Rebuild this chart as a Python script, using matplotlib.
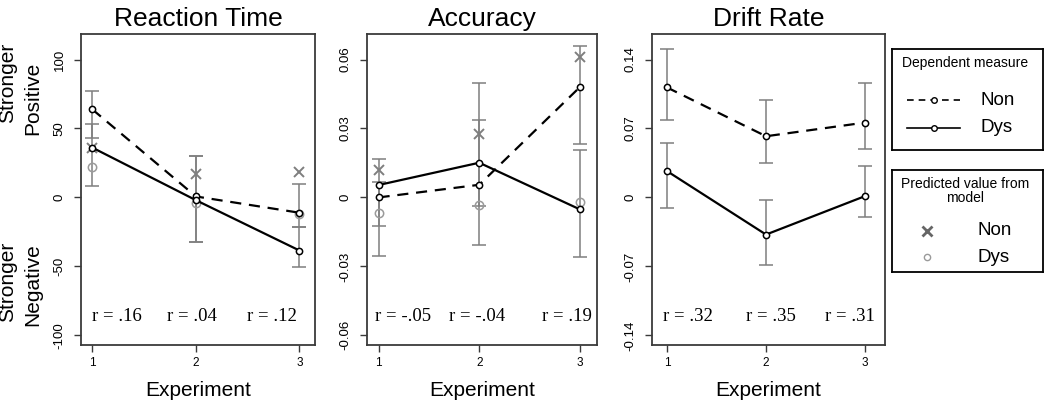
import matplotlib
matplotlib.use("Agg")
import matplotlib.pyplot as plt

plt.rcParams["font.family"] = ["Liberation Sans", "DejaVu Sans"]

# =========================
# Data
# =========================

experiments = [1, 2, 3]
panel_titles = ["Reaction Time", "Accuracy", "Drift Rate"]

rt_non = [63.8, 0.7, -11.1]
rt_dys = [36.1, -2.0, -38.5]
rt_non_lo = [43.1, -32.0, -21.6]
rt_non_hi = [77.3, 29.8, 9.5]
rt_dys_lo = [8.2, -32.0, -50.2]
rt_dys_hi = [53.6, 29.8, -21.6]
rt_pred_non = [36.0, 17.2, 18.4]
rt_pred_dys = [22.0, -4.4, -12.0]
rt_r = ["r = .16", "r = .04", "r = .12"]

acc_non = [0.0, 0.0055, 0.048]
acc_dys = [0.0054, 0.0151, -0.0052]
acc_non_lo = [-0.0125, -0.0205, 0.0234]
acc_non_hi = [0.0067, 0.0336, 0.066]
acc_dys_lo = [-0.0253, -0.0039, -0.026]
acc_dys_hi = [0.0166, 0.0496, 0.0205]
acc_pred_non = [0.0118, 0.0275, 0.0612]
acc_pred_dys = [-0.0068, -0.0035, -0.002]
acc_r = ["r = -.05", "r = -.04", "r = .19"]

drift_non = [0.1117, 0.0621, 0.076]
drift_dys = [0.0268, -0.0377, 0.0014]
drift_non_lo = [0.0791, 0.035, 0.0496]
drift_non_hi = [0.1504, 0.0988, 0.1164]
drift_dys_lo = [-0.0109, -0.0686, -0.020]
drift_dys_hi = [0.0557, -0.0031, 0.0316]
drift_r = ["r = .32", "r = .35", "r = .31"]

rt_ticks = [-100, -50, 0, 50, 100]
rt_ticklabels = ["-100", "-50", "0", "50", "100"]
acc_ticks = [-0.06, -0.03, 0, 0.03, 0.06]
acc_ticklabels = ["-0.06", "-0.03", "0", "0.03", "0.06"]
drift_ticks = [-0.14, -0.07, 0, 0.07, 0.14]
drift_ticklabels = ["-0.14", "-0.07", "0", "0.07", "0.14"]

GREY = "#7f7f7f"
FRAME = "#3a3a3a"

# =========================
# Figure layout
# =========================

fig = plt.figure(figsize=(10.5, 4.08), dpi=100)

W, H = 1050.0, 408.0


def px_axes(left, right, top, bottom):
    return fig.add_axes([left / W, 1 - bottom / H, (right - left) / W, (bottom - top) / H])


axes = [
    px_axes(81, 315, 34, 345),
    px_axes(367, 597, 34, 345),
    px_axes(652, 885, 34, 345),
]

panels = [
    dict(non=rt_non, dys=rt_dys, non_lo=rt_non_lo, non_hi=rt_non_hi,
         dys_lo=rt_dys_lo, dys_hi=rt_dys_hi, pred_non=rt_pred_non,
         pred_dys=rt_pred_dys, r=rt_r, ticks=rt_ticks, ticklabels=rt_ticklabels,
         ylim=(-107, 118.5), xlim=(0.89, 3.15), rpos=[0.154, 0.474, 0.816]),
    dict(non=acc_non, dys=acc_dys, non_lo=acc_non_lo, non_hi=acc_non_hi,
         dys_lo=acc_dys_lo, dys_hi=acc_dys_hi, pred_non=acc_pred_non,
         pred_dys=acc_pred_dys, r=acc_r, ticks=acc_ticks, ticklabels=acc_ticklabels,
         ylim=(-0.0642, 0.0711), xlim=(0.885, 3.17), rpos=[0.157, 0.478, 0.87]),
    dict(non=drift_non, dys=drift_dys, non_lo=drift_non_lo, non_hi=drift_non_hi,
         dys_lo=drift_dys_lo, dys_hi=drift_dys_hi, pred_non=None,
         pred_dys=None, r=drift_r, ticks=drift_ticks, ticklabels=drift_ticklabels,
         ylim=(-0.1498, 0.1659), xlim=(0.85, 3.2), rpos=[0.155, 0.51, 0.85]),
]


def draw_bars(ax, lo, hi):
    mid = [(a + b) / 2 for a, b in zip(lo, hi)]
    err = [[m - a for m, a in zip(mid, lo)], [b - m for m, b in zip(mid, hi)]]
    ax.errorbar(experiments, mid, yerr=err, fmt="none", ecolor=GREY,
                elinewidth=1.1, capsize=4.7, capthick=1.1, zorder=1)


for ax, p, title in zip(axes, panels, panel_titles):
    draw_bars(ax, p["non_lo"], p["non_hi"])
    draw_bars(ax, p["dys_lo"], p["dys_hi"])

    if p["pred_non"] is not None:
        ax.plot(experiments, p["pred_non"], linestyle="none", marker="x",
                markersize=7, markeredgewidth=1.4, color=GREY, zorder=2)
        ax.plot(experiments, p["pred_dys"], linestyle="none", marker="o",
                markersize=6, markeredgewidth=1.1, markerfacecolor="none",
                markeredgecolor="#9a9a9a", zorder=2)

    ax.plot(experiments, p["non"], color="black", linewidth=1.6,
            dashes=(5, 3.5), marker="o", markersize=4.5,
            markerfacecolor="white", markeredgecolor="black",
            markeredgewidth=1.1, zorder=3)
    ax.plot(experiments, p["dys"], color="black", linewidth=1.6,
            marker="o", markersize=4.5, markerfacecolor="white",
            markeredgecolor="black", markeredgewidth=1.1, zorder=3)

    for xf, txt in zip(p["rpos"], p["r"]):
        ax.text(xf, 0.093, txt, transform=ax.transAxes, ha="center",
                va="center", fontsize=13.5,
                family=["Liberation Serif", "DejaVu Serif"])

    ax.set_xlim(*p["xlim"])
    ax.set_ylim(*p["ylim"])
    ax.set_xticks(experiments)
    ax.set_xticklabels(["1", "2", "3"])
    ax.set_yticks(p["ticks"])
    ax.set_yticklabels(p["ticklabels"], rotation=90, va="center")
    ax.tick_params(axis="x", length=5, width=1.0, pad=3.5, labelsize=8.5,
                   color=FRAME)
    ax.tick_params(axis="y", length=5, width=1.0, pad=6, labelsize=9.5,
                   color=FRAME)
    for sp in ax.spines.values():
        sp.set_color(FRAME)
        sp.set_linewidth(1.3)

    ax.set_title(title, fontsize=19, pad=6)
    ax.set_xlabel("Experiment", fontsize=15, labelpad=9)

# side labels on the first panel
fig.text(8 / W, 1 - 82.5 / H, "Stronger", rotation=90, ha="center",
         va="center", fontsize=15)
fig.text(33 / W, 1 - 98.5 / H, "Positive", rotation=90, ha="center",
         va="center", fontsize=15)
fig.text(8 / W, 1 - 281.5 / H, "Stronger", rotation=90, ha="center",
         va="center", fontsize=15)
fig.text(33 / W, 1 - 285 / H, "Negative", rotation=90, ha="center",
         va="center", fontsize=15)

# =========================
# Legend boxes
# =========================

leg1 = px_axes(892, 1043, 49, 150)
leg2 = px_axes(892, 1043, 170, 272)
for lg in (leg1, leg2):
    lg.set_xlim(0, 1)
    lg.set_ylim(0, 1)
    lg.set_xticks([])
    lg.set_yticks([])
    for sp in lg.spines.values():
        sp.set_color("black")
        sp.set_linewidth(1.3)

leg1.text(0.483, 0.864, "Dependent measure", ha="center", va="center",
          fontsize=10)
leg1.plot([0.1, 0.45], [0.495, 0.495], color="black", linewidth=1.2,
          dashes=(4, 3))
leg1.plot([0.28], [0.495], marker="o", markersize=4, markerfacecolor="white",
          markeredgecolor="black")
leg1.plot([0.1, 0.45], [0.218, 0.218], color="black", linewidth=1.2)
leg1.plot([0.28], [0.218], marker="o", markersize=4, markerfacecolor="white",
          markeredgecolor="black")
leg1.text(0.583, 0.495, "Non", ha="left", va="center", fontsize=13.5)
leg1.text(0.583, 0.218, "Dys", ha="left", va="center", fontsize=13.5)

leg2.text(0.483, 0.86, "Predicted value from", ha="center", va="center",
          fontsize=10)
leg2.text(0.483, 0.725, "model", ha="center", va="center", fontsize=10)
leg2.plot([0.232], [0.402], marker="x", markersize=6.5, markeredgewidth=2,
          color="#666666")
leg2.plot([0.232], [0.147], marker="o", markersize=4.5, markeredgewidth=1,
          markerfacecolor="none", markeredgecolor="#9a9a9a")
leg2.text(0.563, 0.402, "Non", ha="left", va="center", fontsize=13.5)
leg2.text(0.563, 0.147, "Dys", ha="left", va="center", fontsize=13.5)

fig.savefig("out.png", dpi=100)
